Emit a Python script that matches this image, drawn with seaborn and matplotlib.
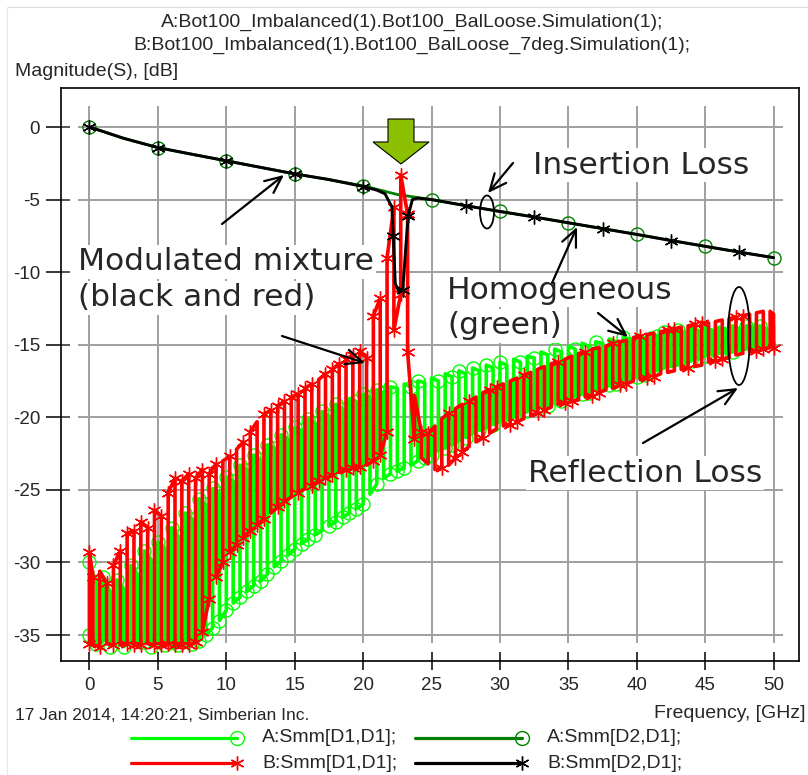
import numpy as np
import pandas as pd
import matplotlib
matplotlib.use("Agg")
import matplotlib.pyplot as plt
import seaborn as sns
from matplotlib.patches import Ellipse, Polygon, FancyArrowPatch
from matplotlib.lines import Line2D
from matplotlib.ticker import FixedLocator

# ---------------- data ----------------
x_ticks = [0, 5, 10, 15, 20, 25, 30, 35, 40, 45, 50]
y_ticks = [0, -5, -10, -15, -20, -25, -30, -35]

# A:Smm[D1,D1]  (reflection, homogeneous, light green) - peak/trough per sample
green_freq = [0.0, 0.5, 1.0, 1.5, 2.0, 2.5, 3.0, 3.5, 4.0, 4.5,
              5.0, 5.5, 6.0, 6.5, 7.0, 7.5, 8.0, 8.5, 9.0, 9.5,
              10.0, 10.5, 11.0, 11.5, 12.0, 12.5, 13.0, 13.5, 14.0, 14.5,
              15.0, 15.5, 16.0, 16.5, 17.0, 17.5, 18.0, 18.5, 19.0, 19.5,
              20.0, 20.5, 21.0, 21.5, 22.0, 22.5, 23.0, 23.5, 24.0, 24.5,
              25.0, 25.5, 26.0, 26.5, 27.0, 27.5, 28.0, 28.5, 29.0, 29.5,
              30.0, 30.5, 31.0, 31.5, 32.0, 32.5, 33.0, 33.5, 34.0, 34.5,
              35.0, 35.5, 36.0, 36.5, 37.0, 37.5, 38.0, 38.5, 39.0, 39.5,
              40.0, 40.5, 41.0, 41.5, 42.0, 42.5, 43.0, 43.5, 44.0, 44.5,
              45.0, 45.5, 46.0, 46.5, 47.0, 47.5, 48.0, 48.5, 49.0, 49.5,
              50.0]
green_hi = [-30.0, -31.5, -31.0, -32.0, -31.2, -31.8, -30.2, -30.8, -29.2, -29.8,
            -28.6, -29.0, -27.6, -28.2, -26.6, -27.0, -25.6, -26.0, -24.9, -25.2,
            -24.1, -24.4, -23.3, -23.6, -22.6, -22.9, -21.9, -22.1, -21.2, -21.5,
            -20.7, -20.9, -20.1, -20.4, -19.6, -19.9, -19.1, -19.4, -18.7, -18.9,
            -18.4, -18.6, -18.1, -18.3, -17.9, -18.0, -17.7, -17.9, -17.5, -17.6,
            -17.3, -17.5, -17.0, -17.2, -16.8, -17.0, -16.6, -16.8, -16.4, -16.6,
            -16.2, -16.4, -16.0, -16.2, -15.8, -15.9, -15.5, -15.7, -15.3, -15.5,
            -15.1, -15.3, -14.9, -15.1, -14.8, -14.9, -14.6, -14.8, -14.5, -14.6,
            -14.3, -14.5, -14.2, -14.4, -14.1, -14.2, -14.0, -14.1, -13.9, -14.0,
            -13.8, -14.0, -13.8, -13.9, -13.7, -13.9, -13.7, -13.8, -13.7, -13.9,
            -13.8]
green_lo = [-35.0, -35.6, -35.4, -35.8, -35.5, -35.8, -35.4, -35.7, -35.5, -35.8,
            -35.4, -35.7, -35.5, -35.7, -35.4, -35.6, -35.4, -35.0, -34.5, -34.0,
            -33.3, -32.8, -32.4, -32.0, -31.6, -31.3, -30.8, -30.3, -29.9, -29.5,
            -29.1, -28.7, -28.4, -28.1, -27.8, -27.5, -27.2, -26.9, -26.6, -26.3,
            -26.0, -25.3, -24.6, -24.2, -23.9, -23.7, -23.5, -23.3, -23.0, -22.8,
            -22.6, -22.3, -22.1, -21.9, -21.6, -21.4, -21.1, -20.9, -20.7, -20.5,
            -20.3, -20.2, -20.0, -19.8, -19.6, -19.5, -19.3, -19.2, -19.0, -18.9,
            -18.7, -18.6, -18.4, -18.3, -18.1, -18.0, -17.8, -17.7, -17.5, -17.4,
            -17.2, -17.1, -16.9, -16.8, -16.6, -16.5, -16.4, -16.3, -16.1, -16.0,
            -15.8, -15.7, -15.6, -15.6, -15.5, -15.4, -15.3, -15.3, -15.2, -15.2,
            -15.1]

# B:Smm[D1,D1]  (reflection, modulated, red)
red_freq = [0.0, 0.25, 0.75, 1.25, 1.75, 2.25, 2.75, 3.25, 3.75, 4.25,
            4.75, 5.25, 5.75, 6.25, 6.75, 7.25, 7.75, 8.25, 8.75, 9.25,
            9.75, 10.25, 10.75, 11.25, 11.75, 12.25, 12.75, 13.25, 13.75, 14.25,
            14.75, 15.25, 15.75, 16.25, 16.75, 17.25, 17.75, 18.25, 18.75, 19.25,
            19.75, 20.25, 20.75, 21.25, 21.75, 22.25, 22.75, 23.25, 23.75, 24.25,
            24.75, 25.25, 25.75, 26.25, 26.75, 27.25, 27.75, 28.25, 28.75, 29.25,
            29.75, 30.25, 30.75, 31.25, 31.75, 32.25, 32.75, 33.25, 33.75, 34.25,
            34.75, 35.25, 35.75, 36.25, 36.75, 37.25, 37.75, 38.25, 38.75, 39.25,
            39.75, 40.25, 40.75, 41.25, 41.75, 42.25, 42.75, 43.25, 43.75, 44.25,
            44.75, 45.25, 45.75, 46.25, 46.75, 47.25, 47.75, 48.25, 48.75, 49.25,
            49.75, 50.0]
red_hi = [-29.3, -31.0, -30.6, -31.4, -30.2, -29.2, -28.0, -27.8, -27.2, -27.6,
          -26.4, -26.8, -25.2, -24.2, -24.4, -23.9, -24.2, -23.6, -23.9, -23.2,
          -23.0, -22.7, -22.2, -21.7, -21.0, -20.3, -19.8, -19.5, -19.2, -18.9,
          -18.6, -18.4, -18.0, -17.7, -17.4, -17.0, -16.7, -16.3, -16.0, -15.7,
          -15.4, -15.9, -13.0, -11.8, -9.0, -5.5, -3.3, -6.0, -18.5, -21.0,
          -21.1, -20.6, -20.1, -19.7, -19.4, -19.1, -18.9, -18.6, -18.3, -18.1,
          -17.9, -17.7, -17.5, -17.3, -17.1, -16.9, -16.7, -16.5, -16.3, -16.2,
          -16.0, -15.8, -15.6, -15.5, -15.3, -15.2, -15.1, -14.9, -14.8, -14.7,
          -14.5, -14.4, -14.3, -14.2, -14.1, -14.0, -13.9, -13.8, -13.7, -13.6,
          -13.5, -13.5, -13.4, -13.3, -13.2, -13.1, -13.0, -12.9, -12.8, -12.7,
          -12.7, -12.9]
red_lo = [-35.6, -35.7, -35.8, -35.6, -35.7, -35.7, -35.6, -35.7, -35.7, -35.6,
          -35.7, -35.7, -35.6, -35.7, -35.7, -35.7, -35.5, -34.8, -32.5, -31.0,
          -30.0, -29.3, -28.8, -28.3, -27.8, -27.4, -27.0, -26.6, -26.2, -25.8,
          -25.5, -25.2, -24.9, -24.7, -24.4, -24.2, -24.0, -23.8, -23.6, -23.5,
          -23.4, -23.3, -23.0, -22.6, -21.0, -14.0, -11.5, -15.5, -21.5, -22.8,
          -23.2, -23.6, -23.5, -23.3, -22.8, -22.4, -22.0, -21.7, -21.4, -21.1,
          -20.8, -20.6, -20.5, -20.3, -20.1, -19.9, -19.7, -19.5, -19.3, -19.1,
          -19.0, -18.9, -18.8, -18.6, -18.5, -18.3, -18.1, -18.0, -17.8, -17.7,
          -17.5, -17.4, -17.3, -17.2, -17.0, -16.9, -16.8, -16.7, -16.6, -16.5,
          -16.4, -16.2, -16.1, -16.0, -15.9, -15.7, -15.6, -15.5, -15.4, -15.3,
          -15.2, -15.2]

# A:Smm[D2,D1]  (insertion, dark green)
il_a_freq = [0, 2.5, 5, 7.5, 10, 12.5, 15, 17.5, 20, 22.5, 25, 27.5, 30, 32.5,
             35, 37.5, 40, 42.5, 45, 47.5, 50]
il_a_db = [0.0, -0.78, -1.42, -1.88, -2.33, -2.78, -3.23, -3.62, -4.05, -4.65,
           -5.0, -5.42, -5.82, -6.2, -6.6, -7.0, -7.4, -7.82, -8.22, -8.62, -9.0]

# B:Smm[D2,D1]  (insertion, black)
il_b_freq = [0, 2.5, 5, 7.5, 10, 12.5, 15, 17.5, 20, 21.0, 21.6, 22.1, 22.2,
             22.35, 22.6, 22.9, 23.1, 23.3, 23.6, 24.0, 25, 27.5, 30, 32.5, 35,
             37.5, 40, 42.5, 45, 47.5, 50]
il_b_db = [0.0, -0.78, -1.42, -1.88, -2.33, -2.78, -3.23, -3.62, -4.1, -4.35,
           -4.6, -5.5, -7.5, -10.8, -11.3, -11.2, -8.5, -6.1, -5.0, -4.9, -5.0,
           -5.42, -5.82, -6.2, -6.6, -7.0, -7.4, -7.82, -8.22, -8.62, -9.0]

legend_labels = ["A:Smm[D1,D1];", "A:Smm[D2,D1];", "B:Smm[D1,D1];", "B:Smm[D2,D1];"]
title_lines = ["A:Bot100_Imbalanced(1).Bot100_BalLoose.Simulation(1);",
               "B:Bot100_Imbalanced(1).Bot100_BalLoose_7deg.Simulation(1);"]

# ---------------- figure ----------------
W, H, DPI = 808, 775, 100
sns.set_style("white")
plt.rcParams["font.family"] = ["Liberation Sans", "DejaVu Sans"]
plt.rcParams["axes.unicode_minus"] = False

fig = plt.figure(figsize=(W / DPI, H / DPI), dpi=DPI)
fig.patch.set_facecolor("white")


def fx(px):
    return px / W


def fy(py):
    return 1 - py / H


ax = fig.add_axes([fx(61), fy(661), fx(799) - fx(61), fy(88) - fy(661)])
ax.set_facecolor("white")


def meander(freq, lo, hi):
    xs, ys = [], []
    for i, (f, l, h) in enumerate(zip(freq, lo, hi)):
        xs += [f, f]
        ys += ([l, h] if i % 2 == 0 else [h, l])
    return pd.DataFrame({"freq": xs, "dB": ys})


C_LIME, C_DGREEN, C_RED, C_BLACK = "#00FF00", "#008000", "#FF0000", "#000000"
ASTER = (6, 2, 0)
ME = 0.074

df_a11 = meander(green_freq, green_lo, green_hi)
df_b11 = meander(red_freq, red_lo, red_hi)
df_a21 = pd.DataFrame({"freq": il_a_freq, "dB": il_a_db})
df_b21 = pd.DataFrame({"freq": il_b_freq, "dB": il_b_db})


def draw(df, color, lw, marker, ms, mfc, z):
    sns.lineplot(data=df, x="freq", y="dB", ax=ax, sort=False, estimator=None,
                 color=color, lw=lw, marker=marker, markersize=ms,
                 markerfacecolor=mfc, markeredgecolor=color,
                 markeredgewidth=1.0, markevery=ME, legend=False, zorder=z)


draw(df_a11, C_LIME, 2.6, "o", 9.4, "none", 2)
draw(df_a21, C_DGREEN, 2.0, "o", 9.4, "none", 3)
draw(df_b11, C_RED, 2.6, ASTER, 10, C_RED, 4)
draw(df_b21, C_BLACK, 2.1, ASTER, 10, C_BLACK, 5)

# grid (inset like the original tool)
ax.vlines(x_ticks, -35.55, 1.45, colors="#a0a0a0", lw=1.4, zorder=0.5)
ax.hlines(y_ticks, -0.84, 50.7, colors="#a0a0a0", lw=1.4, zorder=0.5)

ax.set_xlim(-2.083, 51.86)
ax.set_ylim(-36.79, 2.687)
ax.set_xlabel("")
ax.set_ylabel("")
ax.set_xticks(x_ticks)
ax.set_yticks(y_ticks)
ax.set_xticklabels([str(v) for v in x_ticks])
ax.set_yticklabels([str(v) for v in y_ticks])
for s in ax.spines.values():
    s.set_visible(True)
    s.set_color("black")
    s.set_linewidth(1.2)
ax.tick_params(axis="both", which="major", bottom=True, left=True, top=False,
               right=False, labelsize=13.5, width=1.1, color="black")
ax.tick_params(axis="x", which="major", direction="inout", length=12.5, pad=5)
ax.tick_params(axis="y", which="major", direction="out", length=11, pad=4)
ax.yaxis.set_minor_locator(FixedLocator(y_ticks))
ax.yaxis.remove_overlapping_locs = False
ax.tick_params(axis="y", which="minor", direction="in", length=6.5, width=1.1,
               left=True, right=False)

# faint frame of the window
fig.add_artist(Line2D([fx(8), 1], [fy(7), fy(7)], color="#dcdcdc", lw=0.8,
                      transform=fig.transFigure))
fig.add_artist(Line2D([fx(7), fx(7)], [fy(7), 0], color="#e6e6e6", lw=0.8,
                      transform=fig.transFigure))

# titles / labels
fig.text(fx(412), fy(22), title_lines[0], ha="center", va="center", fontsize=14)
fig.text(fx(412), fy(45), title_lines[1], ha="center", va="center", fontsize=14)
fig.text(fx(15), fy(71), "Magnitude(S), [dB]", ha="left", va="center", fontsize=14)
fig.text(fx(15), fy(715), "17 Jan 2014, 14:20:21, Simberian Inc.", ha="left",
         va="center", fontsize=12.5)
fig.text(fx(806), fy(713), "Frequency, [GHz]", ha="right", va="center", fontsize=14)

# legend drawn in tool style
leg = [(131, 237, 262, 738, C_LIME, "o", "none"),
       (415, 522, 547, 738, C_DGREEN, "o", "none"),
       (131, 237, 262, 763, C_RED, ASTER, C_RED),
       (415, 522, 547, 763, C_BLACK, ASTER, C_BLACK)]
for (x0, x1, xt, yy, col, mk, mfc), lab in zip(leg, legend_labels):
    fig.add_artist(Line2D([fx(x0), fx(x1)], [fy(yy), fy(yy)], color=col, lw=2.3,
                          transform=fig.transFigure))
    fig.add_artist(Line2D([fx(x1)], [fy(yy)], color=col, marker=mk, ms=10,
                          mfc=mfc, mec=col, mew=1.0, transform=fig.transFigure))
    fig.text(fx(xt), fy(yy), lab, ha="left", va="center", fontsize=14)

# annotations
ann_kw = dict(ha="left", va="center", fontsize=22.5, family=["DejaVu Sans"],
              bbox=dict(facecolor="white", edgecolor="none", pad=1.5), zorder=10)
fig.text(fx(533), fy(165), "Insertion Loss", **ann_kw)
fig.text(fx(78), fy(262), "Modulated mixture", **ann_kw)
fig.text(fx(78), fy(298), "(black and red)", **ann_kw)
fig.text(fx(447), fy(290), "Homogeneous", **ann_kw)
fig.text(fx(447), fy(326), "(green)", **ann_kw)
fig.text(fx(528), fy(473), "Reflection Loss", **ann_kw)

arrows = [((222, 224), (284, 175)),
          ((513, 163), (488, 193)),
          ((552, 283), (577, 227)),
          ((598, 313), (628, 337)),
          ((643, 443), (738, 388)),
          ((282, 336), (365, 363))]
for (xa, ya), (xb, yb) in arrows:
    fig.add_artist(FancyArrowPatch((fx(xa), fy(ya)), (fx(xb), fy(yb)),
                                   transform=fig.transFigure,
                                   arrowstyle="->,head_length=1.0,head_width=0.45",
                                   mutation_scale=12, lw=1.6, color="black",
                                   shrinkA=0, shrinkB=0, zorder=11))

fig.add_artist(Ellipse((fx(487), fy(212)), 14 / W, 33 / H, transform=fig.transFigure,
                       fill=False, ec="black", lw=1.3, zorder=11))
fig.add_artist(Ellipse((fx(739), fy(336)), 22 / W, 98 / H, transform=fig.transFigure,
                       fill=False, ec="black", lw=1.3, zorder=11))

blk = [(388, 119), (414, 119), (414, 142), (429, 142), (401, 164), (373, 142), (388, 142)]
fig.add_artist(Polygon([(fx(a), fy(b)) for a, b in blk], closed=True,
                       transform=fig.transFigure, fc="#8DC000", ec="black", lw=0.8,
                       zorder=11))

fig.savefig("out.png", dpi=DPI, facecolor="white")
